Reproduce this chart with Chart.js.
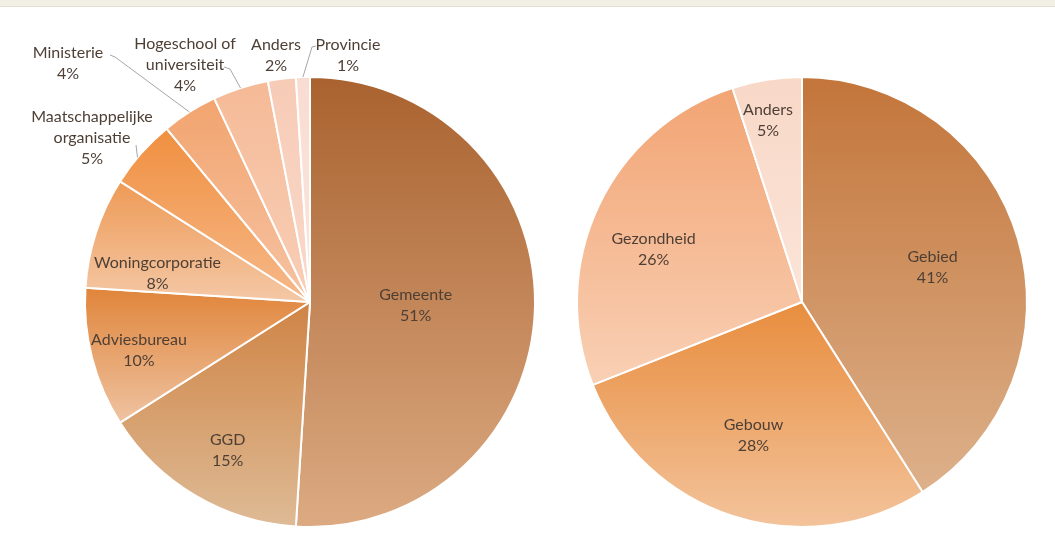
<!DOCTYPE html>
<html>
<head>
<meta charset="utf-8">
<script src="https://cdn.jsdelivr.net/npm/chart.js@4/dist/chart.umd.min.js"></script>
<style>
  html, body { margin: 0; padding: 0; background: #fff; }
  #wrap { position: relative; width: 1055px; height: 553px; overflow: hidden; background: #fff; }
  #strip { position: absolute; left: 0; top: 0; width: 1055px; height: 6px; background: #f2efe5; border-bottom: 1px solid #e3dfd3; }
  .box { position: absolute; top: 0; height: 553px; }
  #leftBox { left: 0; width: 560px; }
  #rightBox { left: 560px; width: 495px; }
</style>
</head>
<body>
<div id="wrap">
  <div id="strip"></div>
  <div class="box" id="leftBox"><canvas id="left"></canvas></div>
  <div class="box" id="rightBox"><canvas id="right"></canvas></div>
</div>
<script>
// left pie: type of organisation
const orgLabels = ['Gemeente', 'GGD', 'Adviesbureau', 'Woningcorporatie', 'Maatschappelijke organisatie', 'Ministerie', 'Hogeschool of universiteit', 'Anders', 'Provincie'];
const orgValues = [51, 15, 10, 8, 5, 4, 4, 2, 1];
// right pie: focus
const focusLabels = ['Gebied', 'Gebouw', 'Gezondheid', 'Anders'];
const focusValues = [41, 28, 26, 5];

// gradient colours per slice [top, bottom]
const orgColors = [
  ['#a9622f', '#dcaa82'], ['#cf8445', '#debb96'], ['#e0853a', '#efc3a2'], ['#ee9a55', '#f4c8a6'],
  ['#f08f3f', '#f6b98a'], ['#f2a46e', '#f6c3a4'], ['#f5ba96', '#f8cfb8'], ['#f7cbb6', '#f9d9ca'], ['#f9dcd1', '#fbe6de']
];
const focusColors = [['#c3753a', '#ddb18b'], ['#e88d3e', '#f3c39b'], ['#f2a473', '#f9d0b5'], ['#f8d8c7', '#fbe4d8']];

// label placement: inside = {t, f} (angle fraction within slice, radius fraction)
// outside = {dx, dy} text centre from pie centre, leader = polyline from text to slice edge at t
const orgPlace = [
  { t: 0.5, f: 0.47 }, { t: 0.47, f: 0.755 }, { t: 0.46, f: 0.79 }, { t: 0.25, f: 0.69 },
  { dx: -218, dy: -164, leader: [[-174, -157]], t: 0.42 },
  { dx: -242, dy: -239, leader: [[-200, -247], [-195, -245]], t: 0.5 },
  { dx: -125, dy: -237, leader: [[-86, -235], [-80, -233]], t: 0.5 },
  { dx: -34, dy: -247 },
  { dx: 38, dy: -247, leader: [[6, -256], [2, -255]], t: 0.5 }
];
const focusPlace = [{ t: 0.51, f: 0.6 }, { t: 0.52, f: 0.63 }, { t: 0.44, f: 0.7 }, { t: 0.41, f: 0.82 }];

const FONT = '16px Lato, "Open Sans", sans-serif';
const TEXT = '#4e3f35';
const LINE_H = 21;

function sliceGradient(colors) {
  return (ctx) => {
    const chart = ctx.chart, area = chart.chartArea, c = colors[ctx.dataIndex];
    if (!area) return c[0];
    const vals = chart.data.datasets[0].data, total = vals.reduce((a, b) => a + b, 0);
    const cy = (area.top + area.bottom) / 2, r = Math.min(area.width, area.height) / 2;
    let before = 0;
    for (let i = 0; i < ctx.dataIndex; i++) before += vals[i];
    const a0 = before / total * 360, a1 = (before + vals[ctx.dataIndex]) / total * 360;
    const ys = [cy, cy - r * Math.cos(a0 * Math.PI / 180), cy - r * Math.cos(a1 * Math.PI / 180)];
    if (a0 <= 0) ys.push(cy - r);
    if (a0 <= 180 && a1 >= 180) ys.push(cy + r);
    const g = chart.ctx.createLinearGradient(0, Math.min(...ys), 0, Math.max(...ys));
    g.addColorStop(0, c[0]);
    g.addColorStop(1, c[1]);
    return g;
  };
}

function splitName(name, outside) {
  if (!outside || name.indexOf(' ') < 0) return [name];
  const i = name.lastIndexOf(' ');
  return [name.slice(0, i), name.slice(i + 1)];
}

const labelPlugin = {
  id: 'sliceLabels',
  afterDatasetsDraw(chart, args, opts) {
    const ctx = chart.ctx, meta = chart.getDatasetMeta(0), ds = chart.data.datasets[0];
    ctx.save();
    ctx.font = FONT;
    ctx.fillStyle = TEXT;
    ctx.textAlign = 'center';
    ctx.textBaseline = 'middle';
    meta.data.forEach((el, i) => {
      const p = opts.place[i], cx = el.x, cy = el.y, R = el.outerRadius;
      const outside = p.dx !== undefined;
      const lines = splitName(chart.data.labels[i], outside).concat([ds.data[i] + '%']);
      let x, y;
      if (outside) { x = cx + p.dx; y = cy + p.dy; }
      else {
        const a = el.startAngle + p.t * (el.endAngle - el.startAngle);
        x = cx + Math.cos(a) * R * p.f;
        y = cy + Math.sin(a) * R * p.f;
      }
      const y0 = y - (lines.length - 1) * LINE_H / 2;
      lines.forEach((s, k) => ctx.fillText(s, x, y0 + k * LINE_H));
      if (p.leader) {
        const a = el.startAngle + p.t * (el.endAngle - el.startAngle);
        ctx.beginPath();
        ctx.strokeStyle = '#a6a6a6';
        ctx.lineWidth = 1;
        p.leader.forEach(([lx, ly], k) => k ? ctx.lineTo(cx + lx, cy + ly) : ctx.moveTo(cx + lx, cy + ly));
        ctx.lineTo(cx + Math.cos(a) * R, cy + Math.sin(a) * R);
        ctx.stroke();
      }
    });
    ctx.restore();
  }
};

function pie(id, labels, values, colors, place, padding) {
  return new Chart(document.getElementById(id), {
    type: 'pie',
    data: { labels, datasets: [{ data: values, backgroundColor: sliceGradient(colors), borderColor: '#ffffff', borderWidth: 2 }] },
    options: {
      responsive: true, maintainAspectRatio: false, animation: false, events: [],
      layout: { padding },
      plugins: { legend: { display: false }, tooltip: { enabled: false }, sliceLabels: { place } }
    },
    plugins: [labelPlugin]
  });
}

pie('left', orgLabels, orgValues, orgColors, orgPlace, { left: 84, right: 24, top: 76, bottom: 25 });
pie('right', focusLabels, focusValues, focusColors, focusPlace, { left: 16, right: 27, top: 76, bottom: 25 });
</script>
</body>
</html>
